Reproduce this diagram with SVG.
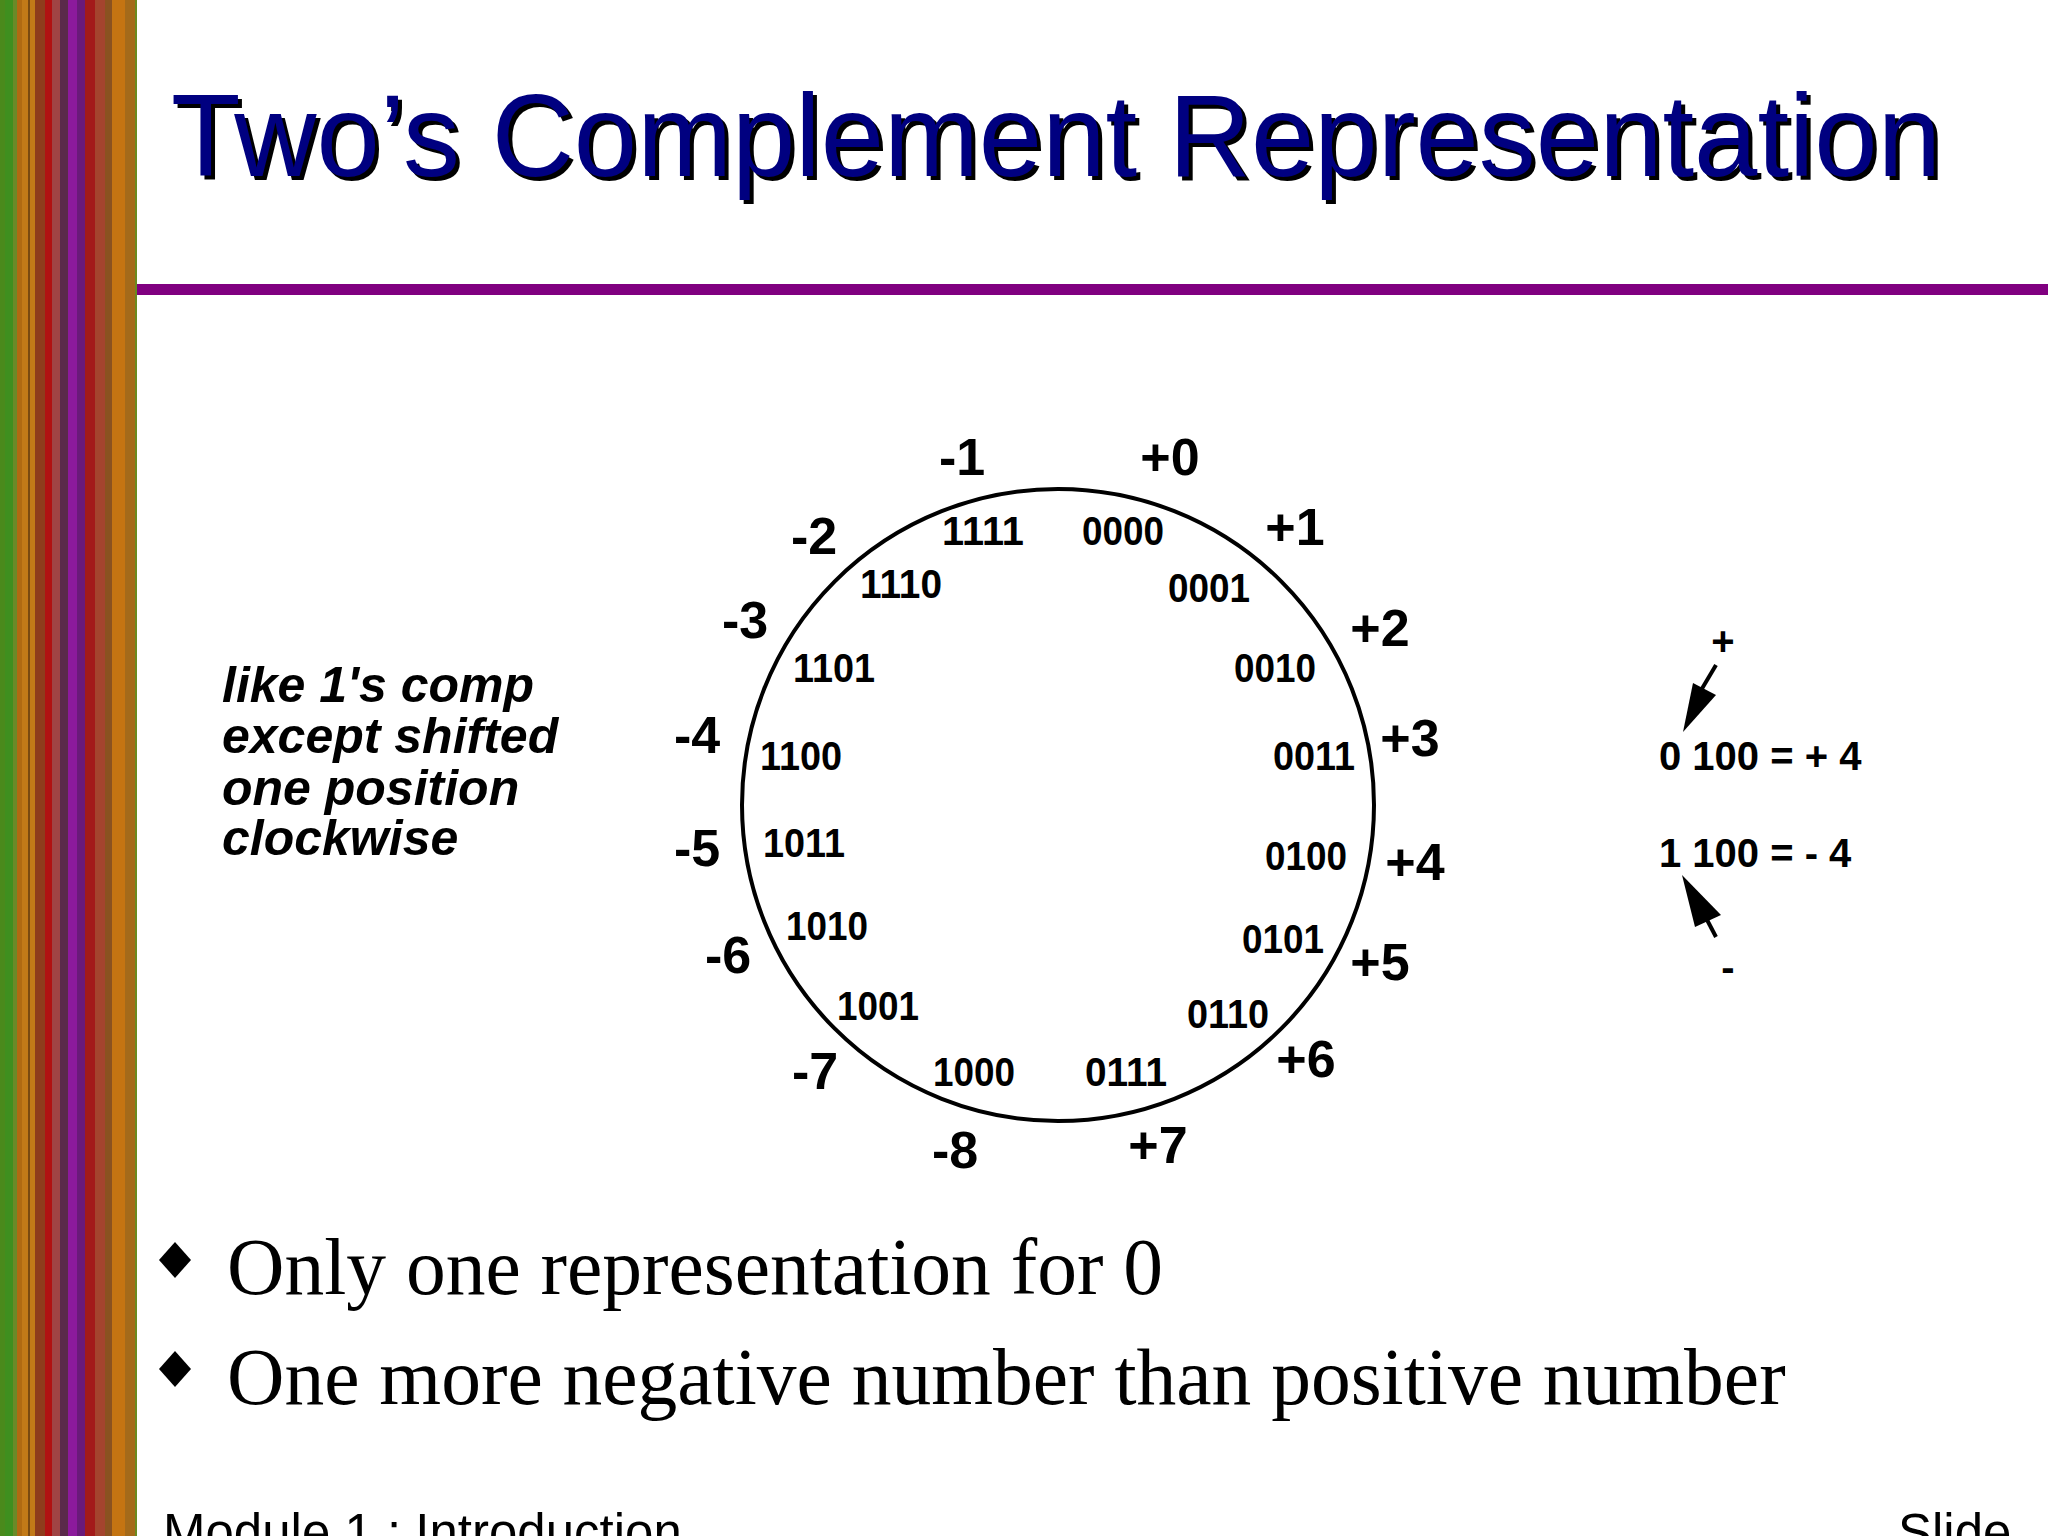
<svg xmlns="http://www.w3.org/2000/svg" width="2048" height="1536" viewBox="0 0 2048 1536">
<style>
.title{font-family:"Liberation Sans",Arial,sans-serif;font-size:116px}
.lbl{font-family:"Liberation Sans",Arial,sans-serif;font-size:52px;font-weight:bold;text-anchor:middle;fill:#000}
.code{font-family:"Liberation Sans",Arial,sans-serif;font-size:41px;font-weight:bold;text-anchor:middle;fill:#000}
.note{font-family:"Liberation Sans",Arial,sans-serif;font-size:50px;font-weight:bold;font-style:italic;fill:#000}
.eq{font-family:"Liberation Sans",Arial,sans-serif;font-size:40px;font-weight:bold;fill:#000}
.bul{font-family:"Liberation Serif","Times New Roman",serif;font-size:79.5px;fill:#000}
.foot{font-family:"Liberation Sans",Arial,sans-serif;font-size:51px;fill:#000}
</style>
<rect width="2048" height="1536" fill="#ffffff"/>
<g id="stripes">
<rect x="0" y="0" width="5" height="1536" fill="#4a8a1c"/>
<rect x="5" y="0" width="8" height="1536" fill="#3f8f1f"/>
<rect x="13" y="0" width="4" height="1536" fill="#6a8a28"/>
<rect x="17" y="0" width="5" height="1536" fill="#b06a12"/>
<rect x="22" y="0" width="13" height="1536" fill="#c27a18"/>
<rect x="28" y="0" width="2" height="1536" fill="#7a4a10"/>
<rect x="35" y="0" width="10" height="1536" fill="#8e3c1c"/>
<rect x="45" y="0" width="7" height="1536" fill="#b01212"/>
<rect x="52" y="0" width="8" height="1536" fill="#a04444"/>
<rect x="60" y="0" width="8" height="1536" fill="#5a2a4a"/>
<rect x="68" y="0" width="9" height="1536" fill="#8c1a9c"/>
<rect x="77" y="0" width="8" height="1536" fill="#6a1a7a"/>
<rect x="85" y="0" width="10" height="1536" fill="#a31a1a"/>
<rect x="95" y="0" width="10" height="1536" fill="#a4442e"/>
<rect x="105" y="0" width="7" height="1536" fill="#8a5220"/>
<rect x="112" y="0" width="13" height="1536" fill="#c47412"/>
<rect x="125" y="0" width="10" height="1536" fill="#a46a1a"/>
<rect x="135" y="0" width="2" height="1536" fill="#6a8a20"/>
</g>
<g id="title">
<text class="title" x="175" y="180" fill="#000000" textLength="1770" lengthAdjust="spacingAndGlyphs">Two’s Complement Representation</text>
<text class="title" x="171" y="176" fill="#000080" textLength="1770" lengthAdjust="spacingAndGlyphs">Two’s Complement Representation</text>
</g>
<rect id="rule" x="137" y="284" width="1911" height="11" fill="#800080"/>
<g id="wheel">
<circle cx="1058" cy="805" r="316" fill="none" stroke="#000" stroke-width="4"/>
</g>
<g id="codes">
<text class="code" x="983" y="545" textLength="82" lengthAdjust="spacingAndGlyphs">1111</text>
<text class="code" x="1123" y="545" textLength="82" lengthAdjust="spacingAndGlyphs">0000</text>
<text class="code" x="901" y="598" textLength="82" lengthAdjust="spacingAndGlyphs">1110</text>
<text class="code" x="1209" y="602" textLength="82" lengthAdjust="spacingAndGlyphs">0001</text>
<text class="code" x="834" y="682" textLength="82" lengthAdjust="spacingAndGlyphs">1101</text>
<text class="code" x="1275" y="682" textLength="82" lengthAdjust="spacingAndGlyphs">0010</text>
<text class="code" x="801" y="770" textLength="82" lengthAdjust="spacingAndGlyphs">1100</text>
<text class="code" x="1314" y="770" textLength="82" lengthAdjust="spacingAndGlyphs">0011</text>
<text class="code" x="804" y="857" textLength="82" lengthAdjust="spacingAndGlyphs">1011</text>
<text class="code" x="1306" y="870" textLength="82" lengthAdjust="spacingAndGlyphs">0100</text>
<text class="code" x="827" y="940" textLength="82" lengthAdjust="spacingAndGlyphs">1010</text>
<text class="code" x="1283" y="953" textLength="82" lengthAdjust="spacingAndGlyphs">0101</text>
<text class="code" x="878" y="1020" textLength="82" lengthAdjust="spacingAndGlyphs">1001</text>
<text class="code" x="1228" y="1028" textLength="82" lengthAdjust="spacingAndGlyphs">0110</text>
<text class="code" x="974" y="1086" textLength="82" lengthAdjust="spacingAndGlyphs">1000</text>
<text class="code" x="1126" y="1086" textLength="82" lengthAdjust="spacingAndGlyphs">0111</text>
</g>
<g id="values">
<text class="lbl" x="962" y="475">-1</text>
<text class="lbl" x="1170" y="475">+0</text>
<text class="lbl" x="1295" y="545">+1</text>
<text class="lbl" x="814" y="554">-2</text>
<text class="lbl" x="745" y="638">-3</text>
<text class="lbl" x="1380" y="646">+2</text>
<text class="lbl" x="697" y="753">-4</text>
<text class="lbl" x="1410" y="756">+3</text>
<text class="lbl" x="697" y="866">-5</text>
<text class="lbl" x="1415" y="880">+4</text>
<text class="lbl" x="728" y="973">-6</text>
<text class="lbl" x="1380" y="980">+5</text>
<text class="lbl" x="815" y="1089">-7</text>
<text class="lbl" x="1306" y="1077">+6</text>
<text class="lbl" x="955" y="1168">-8</text>
<text class="lbl" x="1158" y="1163">+7</text>
</g>
<g id="note">
<text class="note" x="222" y="702">like 1's comp</text>
<text class="note" x="222" y="753">except shifted</text>
<text class="note" x="222" y="805">one position</text>
<text class="note" x="222" y="855">clockwise</text>
</g>
<g id="sign-example">
<text class="eq" x="1723" y="655" text-anchor="middle" font-size="34">+</text>
<text class="eq" x="1659" y="770">0 100 = + 4</text>
<text class="eq" x="1659" y="867">1 100 = - 4</text>
<text class="eq" x="1728" y="981" text-anchor="middle" font-size="34">-</text>
</g>
<g id="connectors" stroke="#000" stroke-width="4" fill="#000">
<line x1="1716" y1="665" x2="1700" y2="692"/>
<polygon points="1683,732 1693,683 1716,695" stroke="none"/>
<line x1="1716" y1="937" x2="1704" y2="914"/>
<polygon points="1682,875 1695,927 1721,915" stroke="none"/>
</g>
<g id="bullets">
<polygon points="175,1242 191,1260 175,1278 159,1260" fill="#000"/>
<text class="bul" x="227" y="1294">Only one representation for 0</text>
<polygon points="175,1351 191,1369 175,1387 159,1369" fill="#000"/>
<text class="bul" x="227" y="1404">One more negative number than positive number</text>
</g>
<g id="footer">
<text class="foot" x="163" y="1550">Module 1 : Introduction</text>
<text class="foot" x="1898" y="1550">Slide</text>
</g>
</svg>
